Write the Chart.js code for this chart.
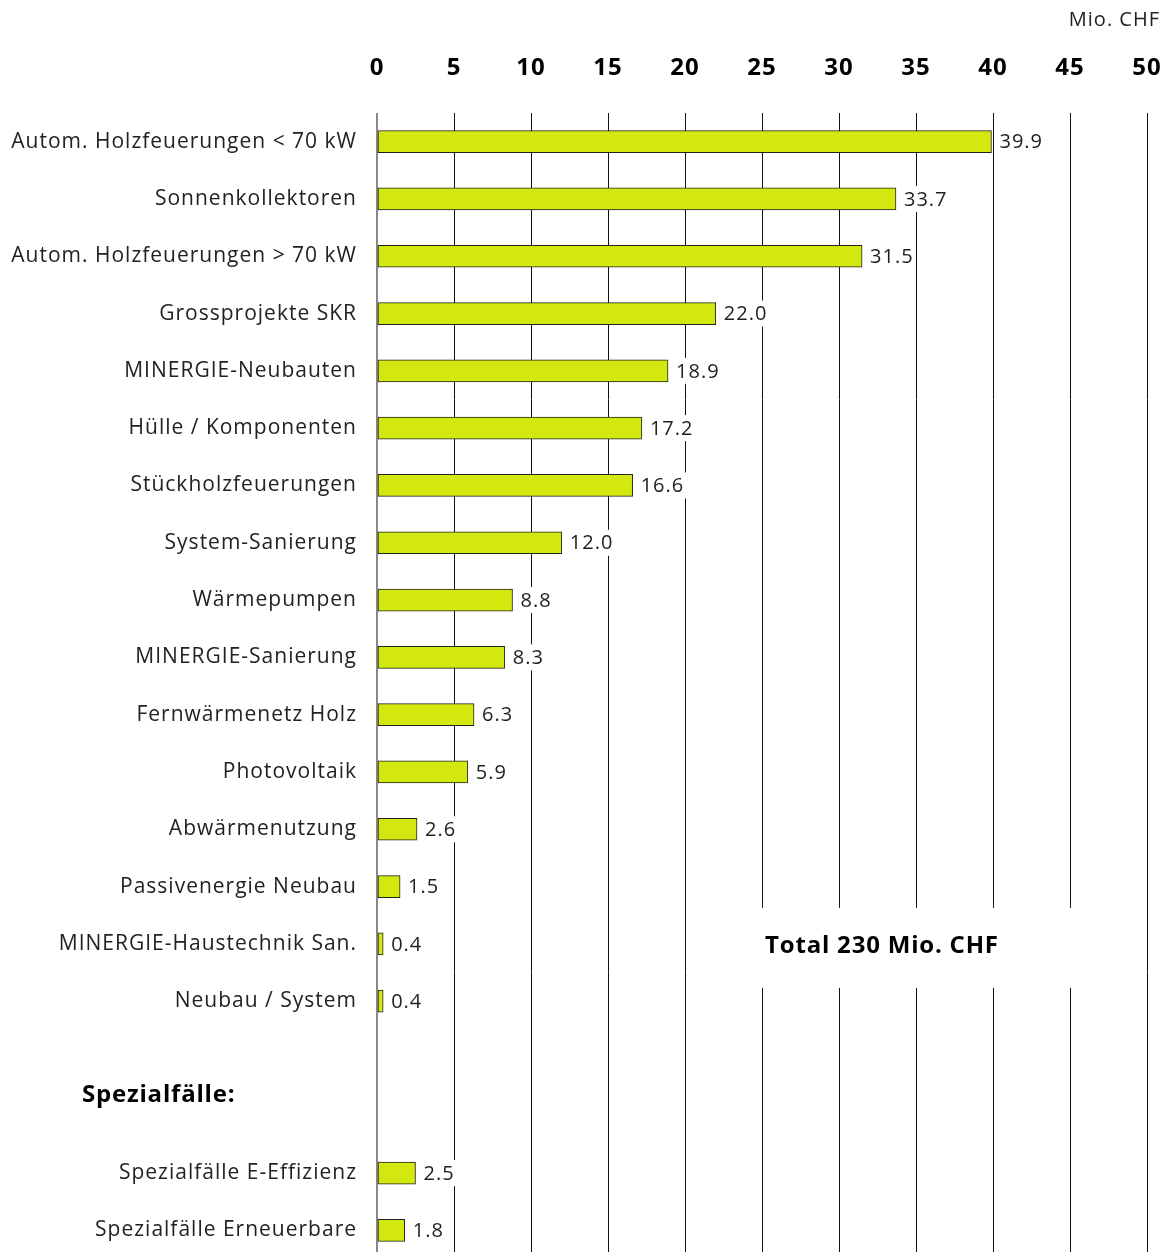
<!DOCTYPE html>
<html>
<head>
<meta charset="utf-8">
<script src="https://cdn.jsdelivr.net/npm/chart.js@4"></script>
<style>
  html, body { margin: 0; padding: 0; background: #fff; overflow: hidden; }
  canvas { display: block; }
</style>
</head>
<body>
<canvas id="myChartFunding" width="1168" height="1259"></canvas>
<script>
// Categories (two empty rows before the "Spezialfälle" block)
const categories = [
  "Autom. Holzfeuerungen < 70 kW",
  "Sonnenkollektoren",
  "Autom. Holzfeuerungen > 70 kW",
  "Grossprojekte SKR",
  "MINERGIE-Neubauten",
  "Hülle / Komponenten",
  "Stückholzfeuerungen",
  "System-Sanierung",
  "Wärmepumpen",
  "MINERGIE-Sanierung",
  "Fernwärmenetz Holz",
  "Photovoltaik",
  "Abwärmenutzung",
  "Passivenergie Neubau",
  "MINERGIE-Haustechnik San.",
  "Neubau / System",
  "",
  "",
  "Spezialfälle E-Effizienz",
  "Spezialfälle Erneuerbare",
];
const amounts = [
  39.9, 33.7, 31.5, 22.0, 18.9, 17.2, 16.6, 12.0, 8.8, 8.3,
  6.3, 5.9, 2.6, 1.5, 0.4, 0.4, null, null, 2.5, 1.8,
];
const xTicks = [0, 5, 10, 15, 20, 25, 30, 35, 40, 45, 50];
const unitLabel = "Mio. CHF";
const totalLabel = "Total 230 Mio. CHF";
const sectionLabel = "Spezialfälle:";

const labelFont = "'Open Sans', 'DejaVu Sans', sans-serif";

// Wider letter spacing like the original typeface
const spacing = {
  id: "spacing",
  beforeInit(chart) {
    chart.ctx.letterSpacing = "1px";
  },
  beforeUpdate(chart) {
    chart.ctx.letterSpacing = "1px";
  },
  beforeDraw(chart) {
    chart.ctx.letterSpacing = "1px";
  },
};

// Value labels, unit, total box and section header
const extras = {
  id: "extras",
  afterDatasetsDraw(chart) {
    const ctx = chart.ctx;
    const x = chart.scales.x;
    const y = chart.scales.y;
    const meta = chart.getDatasetMeta(0);

    ctx.save();
    ctx.letterSpacing = "1px";
    ctx.font = "20px " + labelFont;
    ctx.textBaseline = "middle";
    ctx.textAlign = "left";
    meta.data.forEach((bar, i) => {
      const v = amounts[i];
      if (v === null) return;
      const txt = v.toFixed(1);
      const w = ctx.measureText(txt).width;
      const tx = bar.x + 8;
      ctx.fillStyle = "#fff";
      ctx.fillRect(tx - 2, bar.y - 13, w + 4, 26);
      ctx.fillStyle = "#222";
      ctx.fillText(txt, tx, bar.y + 1);
    });

    // Total box
    const yTot = y.getPixelForValue(14) + 2;
    ctx.fillStyle = "#fff";
    ctx.fillRect(x.getPixelForValue(24.5), yTot - 38, x.getPixelForValue(46) - x.getPixelForValue(24.5), 80);
    ctx.fillStyle = "#000";
    ctx.font = "bold 24px " + labelFont;
    ctx.letterSpacing = "0.8px";
    ctx.fillText(totalLabel, x.getPixelForValue(25.2), yTot);

    // Section header
    const ySec = (y.getPixelForValue(16) + y.getPixelForValue(17)) / 2 + 8;
    ctx.fillText(sectionLabel, 82, ySec);

    // Unit
    ctx.letterSpacing = "1px";
    ctx.font = "20px " + labelFont;
    ctx.fillStyle = "#222";
    ctx.textAlign = "right";
    ctx.fillText(unitLabel, 1160, 20);
    ctx.restore();
  },
};

const ctx = document.getElementById("myChartFunding").getContext("2d");
new Chart(ctx, {
  type: "bar",
  data: {
    labels: categories,
    datasets: [
      {
        label: "Mio. CHF",
        data: amounts,
        backgroundColor: "#d3e80f",
        borderColor: "#222",
        borderWidth: 1,
        borderSkipped: false,
        barThickness: 22,
      },
    ],
  },
  options: {
    indexAxis: "y",
    responsive: false,
    animation: false,
    layout: { padding: { top: 0, right: 21, bottom: 0, left: 0 } },
    plugins: {
      legend: { display: false },
      tooltip: { enabled: false },
    },
    scales: {
      x: {
        position: "top",
        min: 0,
        max: 50,
        afterBuildTicks: (axis) => {
          axis.ticks = xTicks.map((v) => ({ value: v }));
        },
        afterFit: (axis) => {
          axis.height = 113;
          axis.paddingLeft = 0;
          axis.paddingRight = 0;
        },
        border: { display: false },
        grid: {
          drawTicks: false,
          color: (c) => (c.tick && c.tick.value === 0 ? "#888" : "#111"),
          lineWidth: (c) => (c.tick && c.tick.value === 0 ? 2 : 1),
        },
        ticks: {
          padding: 30,
          color: "#000",
          font: { family: labelFont, size: 24, weight: "bold" },
        },
      },
      y: {
        afterFit: (axis) => {
          axis.width = 377;
          axis.paddingTop = 0;
          axis.paddingBottom = 0;
        },
        border: { display: false },
        grid: { display: false, drawTicks: false },
        ticks: {
          padding: 20,
          autoSkip: false,
          color: "#222",
          font: { family: labelFont, size: 21 },
        },
      },
    },
  },
  plugins: [spacing, extras],
});
</script>
</body>
</html>
